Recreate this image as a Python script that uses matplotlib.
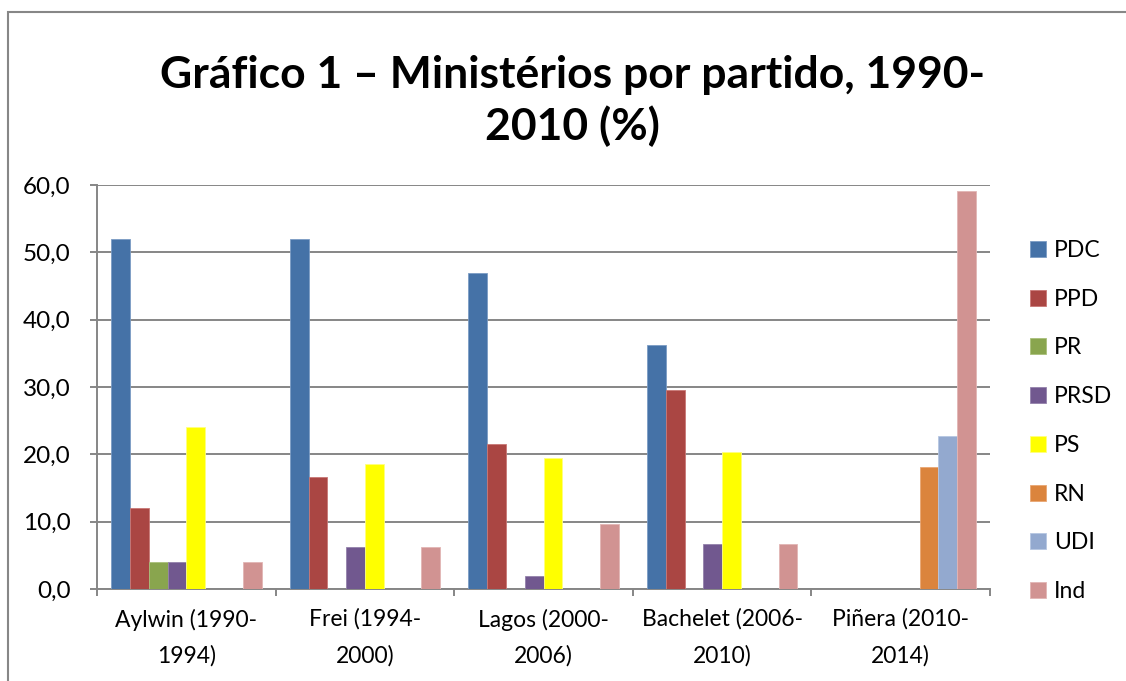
import matplotlib
matplotlib.use("Agg")
import matplotlib.pyplot as plt
import numpy as np
from matplotlib.patches import Rectangle

plt.rcParams['font.family'] = ['Lato', 'DejaVu Sans']

categories = ["Aylwin (1990-\n1994)", "Frei (1994-\n2000)", "Lagos (2000-\n2006)",
              "Bachelet (2006-\n2010)", "Piñera (2010-\n2014)"]
series_names = ["PDC", "PPD", "PR", "PRSD", "PS", "RN", "UDI", "Ind"]
PDC = [52.0, 52.0, 47.0, 36.3, 0]
PPD = [12.0, 16.6, 21.5, 29.5, 0]
PR = [4.0, 0, 0, 0, 0]
PRSD = [4.0, 6.2, 1.9, 6.7, 0]
PS = [24.0, 18.6, 19.5, 20.4, 0]
RN = [0, 0, 0, 0, 18.1]
UDI = [0, 0, 0, 0, 22.7]
Ind = [4.0, 6.2, 9.6, 6.7, 59.1]
yticks = [0, 10, 20, 30, 40, 50, 60]
ytick_labels = ["0,0", "10,0", "20,0", "30,0", "40,0", "50,0", "60,0"]
colors = ["#4572A7", "#AA4643", "#89A54E", "#71588F", "#FFFF00", "#DB843D", "#93A9CF", "#D19392"]
edge_colors = ["#7b9cc4", "#c97775", "#a9c07a", "#9482ab", "#ffff80", "#e9a673", "#b6c6e2", "#e2b5b4"]

data = [PDC, PPD, PR, PRSD, PS, RN, UDI, Ind]

fig = plt.figure(figsize=(11.26, 6.81), dpi=100)
ax = fig.add_axes([97/1126, 1-589/681, (990-97)/1126, (589-185)/681])

n = len(series_names)
bw = 1/9.5
x = np.arange(len(categories))
for i, (name, vals) in enumerate(zip(series_names, data)):
    offs = (i - (n-1)/2) * bw
    ax.bar(x + offs, vals, width=bw, color=colors[i], label=name,
           edgecolor=edge_colors[i], linewidth=0.6, zorder=3)

grid_c = "#868686"
ax.set_ylim(0, 60)
ax.set_xlim(-0.5, len(categories)-0.5)
ax.set_yticks(yticks)
ax.set_yticklabels(ytick_labels, fontsize=17.5)
ax.yaxis.grid(True, color=grid_c, linewidth=1.4, zorder=0)
ax.set_axisbelow(True)

ax.set_xticks(np.arange(-0.5, len(categories), 1.0))
ax.set_xticklabels([])
ax.set_xticks(x, minor=True)
ax.set_xticklabels(categories, minor=True, fontsize=16.5, linespacing=1.85)
ax.tick_params(axis='x', which='minor', length=0, pad=14)
ax.tick_params(axis='x', which='major', length=5, width=1.4, color=grid_c, direction='out')
ax.tick_params(axis='y', length=5, width=1.4, color=grid_c, direction='out', pad=14)

for s in ['top', 'right']:
    ax.spines[s].set_visible(False)
for s in ['left', 'bottom']:
    ax.spines[s].set_color(grid_c)
    ax.spines[s].set_linewidth(1.4)

fig.text(572/1126, 1-101/681, "Gráfico 1 – Ministérios por partido, 1990-\n2010 (%)",
         ha='center', va='center', fontsize=32, fontweight='bold', linespacing=1.3)

leg = fig.legend(loc='center left', bbox_to_anchor=(1030/1126, 1-421/681), frameon=False,
                 fontsize=16.5, handlelength=0.7, handleheight=0.7, handletextpad=0.35,
                 labelspacing=1.21, borderpad=0, borderaxespad=0)

border = Rectangle((8/1126, -0.1), 1.2, 1-12/681+0.1, transform=fig.transFigure,
                   fill=False, edgecolor="#878787", linewidth=1.5, clip_on=False)
fig.patches.append(border)

fig.savefig("out.png", dpi=100)
